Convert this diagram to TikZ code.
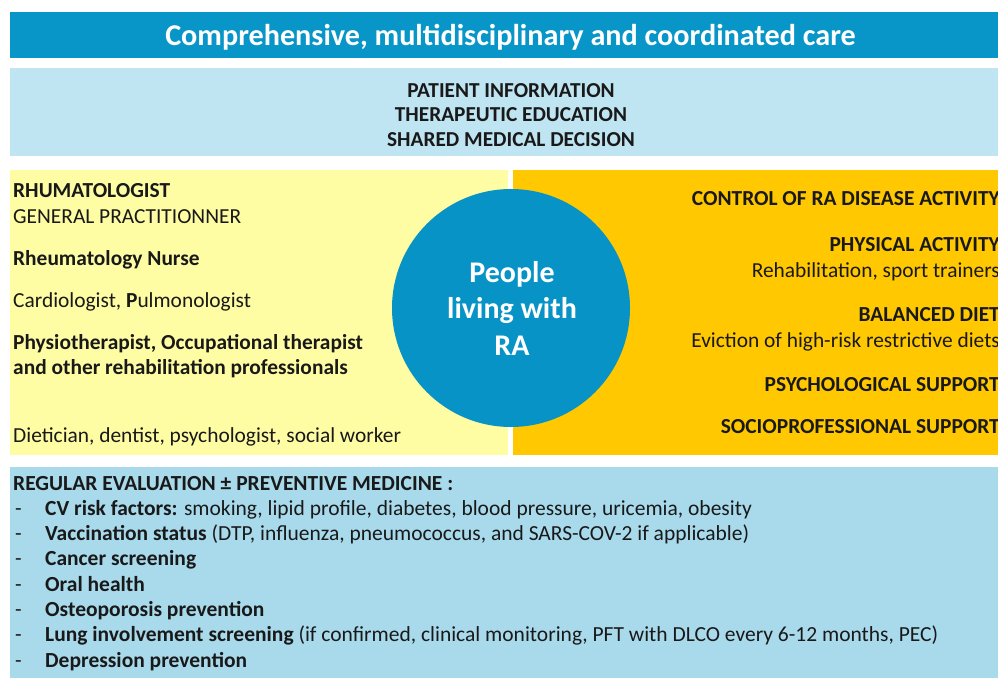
\documentclass[tikz,border=0pt]{standalone}
\usepackage{fontspec}
\setmainfont{Carlito}
\definecolor{hdrblue}{RGB}{8,150,200}
\definecolor{lightblue}{RGB}{191,228,242}
\definecolor{paleyellow}{RGB}{255,253,163}
\definecolor{gold}{RGB}{255,200,0}
\definecolor{botblue}{RGB}{168,218,236}
\definecolor{circblue}{RGB}{8,147,198}
\definecolor{ink}{RGB}{25,25,25}
\begin{document}
\begin{tikzpicture}[x=1pt,y=-1pt,
  panel/.style={draw=none, inner sep=0pt, outer sep=0pt, anchor=north west},
  lt/.style={anchor=base west, inner sep=0pt, text=ink, font=\fontsize{21.4}{24}\selectfont},
  ltb/.style={lt, font=\fontsize{21.4}{24}\selectfont\bfseries},
  rt/.style={anchor=base east, inner sep=0pt, text=ink, font=\fontsize{21.4}{24}\selectfont\bfseries},
  rtn/.style={anchor=base east, inner sep=0pt, text=ink, font=\fontsize{21.4}{24}\selectfont},
  topline/.style={anchor=base, inner sep=0pt, text=ink, font=\fontsize{21.3}{24}\selectfont\bfseries},
  circtxt/.style={anchor=base, inner sep=0pt, text=white, font=\fontsize{30}{34}\selectfont\bfseries},
  bl/.style={anchor=base west, inner sep=0pt, text=ink, font=\fontsize{21.5}{24}\selectfont},
  dashmark/.style={anchor=base west, inner sep=0pt, text=ink, font=\fontsize{21.5}{24}\selectfont}
]
\useasboundingbox (0,0) rectangle (998,677);
\fill[white] (0,0) rectangle (998,677);
\begin{scope}
\clip (0,0) rectangle (998,677);
% panels
\node[panel, fill=hdrblue, minimum width=992pt, minimum height=46pt] (header) at (10,12) {};
\node[panel, fill=lightblue, minimum width=992pt, minimum height=88pt] (info) at (10,68) {};
\node[panel, fill=paleyellow, minimum width=498pt, minimum height=285pt] (left) at (10,170) {};
\node[panel, fill=gold, minimum width=490pt, minimum height=285pt] (right) at (513,170) {};
\node[panel, fill=botblue, minimum width=992pt, minimum height=215pt] (eval) at (10,467) {};

% title
\node[anchor=base, inner sep=0pt, text=white, font=\fontsize{30.2}{34}\selectfont\bfseries] (title) at (510.5,46) {Comprehensive, multidisciplinary and coordinated care};

% top info lines
\node[topline] (pi) at (511,97) {PATIENT INFORMATION};
\node[topline] (te) at (511,121.5) {THERAPEUTIC EDUCATION};
\node[topline] (sd) at (511,146) {SHARED MEDICAL DECISION};

% central circle
\node[circle, fill=circblue, minimum size=238pt, inner sep=0pt] (ra) at (511,308) {};
\node[circtxt] (c1) at (512,282) {People};
\node[circtxt] (c2) at (512,318.5) {living with};
\node[circtxt] (c3) at (512,355) {RA};

% left texts
\node[ltb] (l1) at (13,197) {RHUMATOLOGIST};
\node[lt] (l2) at (13,223) {GENERAL PRACTITIONNER};
\node[ltb] (l3) at (13,265) {Rheumatology Nurse};
\node[lt] (l4) at (13,307) {Cardiologist, \textbf{P}ulmonologist};
\node[ltb] (l5) at (13,349) {Physiotherapist, Occupational therapist};
\node[ltb] (l6) at (13,374) {and other rehabilitation professionals};
\node[lt] (l7) at (13,442) {Dietician, dentist, psychologist, social worker};

% right texts
\node[rt] (r1) at (1000,205) {CONTROL OF RA DISEASE ACTIVITY};
\node[rt] (r2) at (1000,251) {PHYSICAL ACTIVITY};
\node[rtn] (r3) at (1000,277) {Rehabilitation, sport trainers};
\node[rt] (r4) at (1000,321) {BALANCED DIET};
\node[rtn] (r5) at (1000,347) {Eviction of high-risk restrictive diets};
\node[rt] (r6) at (1000,391) {PSYCHOLOGICAL SUPPORT};
\node[rt] (r7) at (1000,433) {SOCIOPROFESSIONAL SUPPORT};

% bottom evaluation list
\node[bl, font=\fontsize{21.5}{24}\selectfont\bfseries] (b0) at (13,490) {REGULAR EVALUATION ± PREVENTIVE MEDICINE :};
\foreach \i/\yy in {1/515.3,2/540.6,3/565.9,4/591.2,5/616.5,6/641.8,7/667.1}{
  \node[dashmark] (d\i) at (15,\yy) {-};
}
\node[bl] (b1) at (45,515.3) {\textbf{CV risk factors:} smoking, lipid profile, diabetes, blood pressure, uricemia, obesity};
\node[bl] (b2) at (45,540.6) {\textbf{Vaccination status} (DTP, influenza, pneumococcus, and SARS-COV-2 if applicable)};
\node[bl] (b3) at (45,565.9) {\textbf{Cancer screening}};
\node[bl] (b4) at (45,591.2) {\textbf{Oral health}};
\node[bl] (b5) at (45,616.5) {\textbf{Osteoporosis prevention}};
\node[bl] (b6) at (45,641.8) {\textbf{Lung involvement screening} (if confirmed, clinical monitoring, PFT with DLCO every 6-12 months, PEC)};
\node[bl] (b7) at (45,667.1) {\textbf{Depression prevention}};
\end{scope}
\end{tikzpicture}
\end{document}
